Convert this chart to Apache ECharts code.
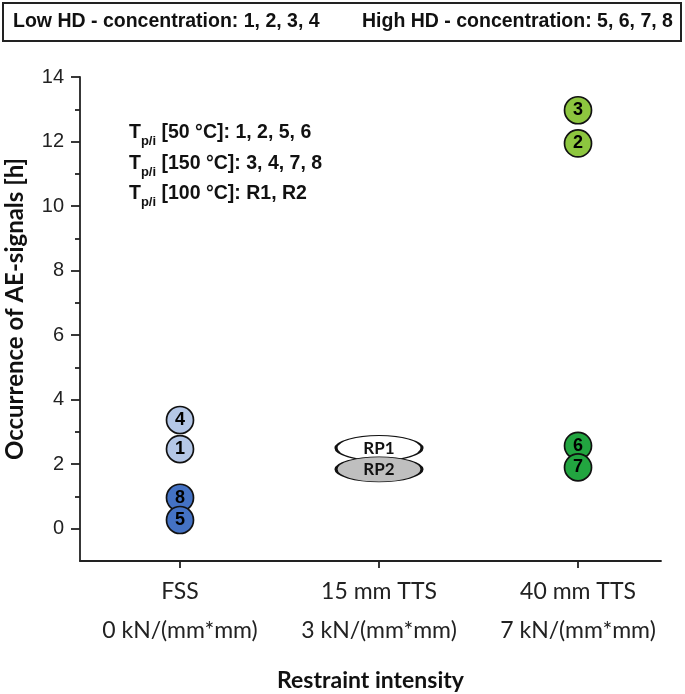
<!DOCTYPE html>
<html>
<head>
<meta charset="utf-8">
<script src="https://cdn.jsdelivr.net/npm/echarts@6/dist/echarts.min.js"></script>
<style>html,body{margin:0;padding:0;background:#fff}#c{width:685px;height:694px}</style>
</head>
<body>
<div id="c"></div>
<script>
// ---- data ----
const categories = ['FSS', '15 mm TTS', '40 mm TTS'];
const intensities = ['0 kN/(mm*mm)', '3 kN/(mm*mm)', '7 kN/(mm*mm)'];
const categoryIndex = [0, 1, 2];
const yTickValues = [0, 2, 4, 6, 8, 10, 12, 14];
const yMinorTickValues = [1, 3, 5, 7, 9, 11, 13];

// specimens: label, category index, occurrence [h]
const lowHdLabels = ['4', '1'];           // FSS, low HD
const lowHdCat = [0, 0];
const lowHdValues = [3.37, 2.47];
const highHdLabels = ['8', '5'];          // FSS, high HD
const highHdCat = [0, 0];
const highHdValues = [0.96, 0.27];
const tts40LowLabels = ['3', '2'];        // 40 mm TTS, low HD
const tts40LowCat = [2, 2];
const tts40LowValues = [12.97, 11.94];
const tts40HighLabels = ['6', '7'];       // 40 mm TTS, high HD
const tts40HighCat = [2, 2];
const tts40HighValues = [2.57, 1.9];
const refLabels = ['RP1', 'RP2'];         // reference, 15 mm TTS
const refCat = [1, 1];
const refValues = [2.5, 1.84];

const legendLow = 'Low HD - concentration: 1, 2, 3, 4';
const legendHigh = 'High HD - concentration: 5, 6, 7, 8';

function pts(labels, cats, vals) {
  return labels.map((l, i) => ({ name: l, value: [cats[i], vals[i]] }));
}

const chart = echarts.init(document.getElementById('c'));

function circleSeries(labels, cats, vals, color) {
  return {
    type: 'scatter',
    data: pts(labels, cats, vals),
    symbol: 'circle',
    symbolSize: 27,
    itemStyle: { color: color, borderColor: '#111', borderWidth: 1.7, opacity: 1 },
    label: {
      show: true, position: 'inside', formatter: '{b}',
      fontFamily: 'Liberation Sans', fontWeight: 'bold', fontSize: 18, color: '#000'
    },
    emphasis: { disabled: true },
    z: 3
  };
}

const ellipsePath = 'path://M0,50 A100,50 0 1,1 200,50 A100,50 0 1,1 0,50 Z';

const option = {
  animation: false,
  backgroundColor: '#fff',
  grid: { left: 80, right: 24, top: 77, bottom: 133, containLabel: false, outerBoundsMode: 'none' },
  xAxis: {
    type: 'value',
    min: -0.5025,
    max: 2.417,
    splitLine: { show: false },
    axisLine: { show: true, onZero: false, lineStyle: { color: '#222', width: 1.8 } },
    axisTick: { show: true, customValues: categoryIndex, length: 7, lineStyle: { color: '#222', width: 1.8 } },
    axisLabel: {
      customValues: categoryIndex,
      formatter: v => categories[Math.round(v)] + '\n' + intensities[Math.round(v)],
      fontFamily: 'Lato', fontSize: 23, color: '#222', lineHeight: 39, margin: 11
    },
    name: 'Restraint intensity',
    nameLocation: 'middle',
    nameGap: 108,
    nameTextStyle: { fontFamily: 'Lato', fontWeight: 'bold', fontSize: 23, color: '#111' }
  },
  yAxis: [{
    type: 'value',
    min: -1,
    max: 14,
    splitLine: { show: false },
    axisLine: { show: true, onZero: false, lineStyle: { color: '#222', width: 1.8 } },
    axisTick: { show: true, customValues: yTickValues, length: 9, lineStyle: { color: '#222', width: 1.8 } },
    axisLabel: {
      customValues: yTickValues,
      fontFamily: 'Liberation Sans', fontSize: 20, color: '#222', margin: 16
    },
    name: 'Occurrence of AE-signals [h]',
    nameLocation: 'middle',
    nameGap: 53,
    nameTextStyle: { fontFamily: 'Lato', fontWeight: 'bold', fontSize: 24, color: '#111', padding: [0, 0, 0, 20] }
  }, {
    type: 'value',
    min: -1,
    max: 14,
    position: 'left',
    splitLine: { show: false },
    axisLine: { show: false, onZero: false },
    axisTick: { show: true, customValues: yMinorTickValues, length: 5, lineStyle: { color: '#222', width: 1.8 } },
    axisLabel: { show: false }
  }],
  series: [
    circleSeries(lowHdLabels, lowHdCat, lowHdValues, '#b4c7e7'),
    circleSeries(highHdLabels, highHdCat, highHdValues, '#4472c4'),
    circleSeries(tts40LowLabels, tts40LowCat, tts40LowValues, '#8dc63f'),
    circleSeries(tts40HighLabels, tts40HighCat, tts40HighValues, '#22a540'),
    {
      type: 'scatter',
      data: pts(refLabels, refCat, refValues).map((d, i) => Object.assign(d, {
        itemStyle: { color: i === 0 ? '#ffffff' : '#bfbfbf' }
      })),
      symbol: ellipsePath,
      symbolSize: [86, 25],
      itemStyle: { borderColor: '#111', borderWidth: 1.7, opacity: 1 },
      label: {
        show: true, position: 'inside', formatter: '{b}',
        fontFamily: 'Lato', fontWeight: 'bold', fontSize: 17, color: '#111'
      },
      emphasis: { disabled: true },
      z: 3
    }
  ],
  graphic: [
    {
      type: 'rect',
      shape: { x: 3, y: 3, width: 678, height: 38 },
      style: { fill: '#fff', stroke: '#222', lineWidth: 2 }
    },
    {
      type: 'text', left: 13, top: 12,
      style: { text: legendLow, fontFamily: 'Liberation Sans', fontWeight: 'bold', fontSize: 19.5, fill: '#111' }
    },
    {
      type: 'text', left: 362, top: 12,
      style: { text: legendHigh, fontFamily: 'Liberation Sans', fontWeight: 'bold', fontSize: 19.5, fill: '#111' }
    },
    {
      type: 'text', left: 129, top: 123,
      style: {
        text: '{t|T}{s|p/i}{t| [50 °C]: 1, 2, 5, 6}\n{t|T}{s|p/i}{t| [150 °C]: 3, 4, 7, 8}\n{t|T}{s|p/i}{t| [100 °C]: R1, R2}',
        fill: '#111',
        rich: {
          t: { fontFamily: 'Liberation Sans', fontWeight: 'bold', fontSize: 19.5, lineHeight: 30.5, fill: '#111' },
          s: { fontFamily: 'Liberation Sans', fontWeight: 'bold', fontSize: 13, lineHeight: 30.5, fill: '#111', verticalAlign: 'bottom', padding: [0, 0, 0, 0] }
        }
      }
    }
  ]
};
chart.setOption(option);
</script>
</body>
</html>
